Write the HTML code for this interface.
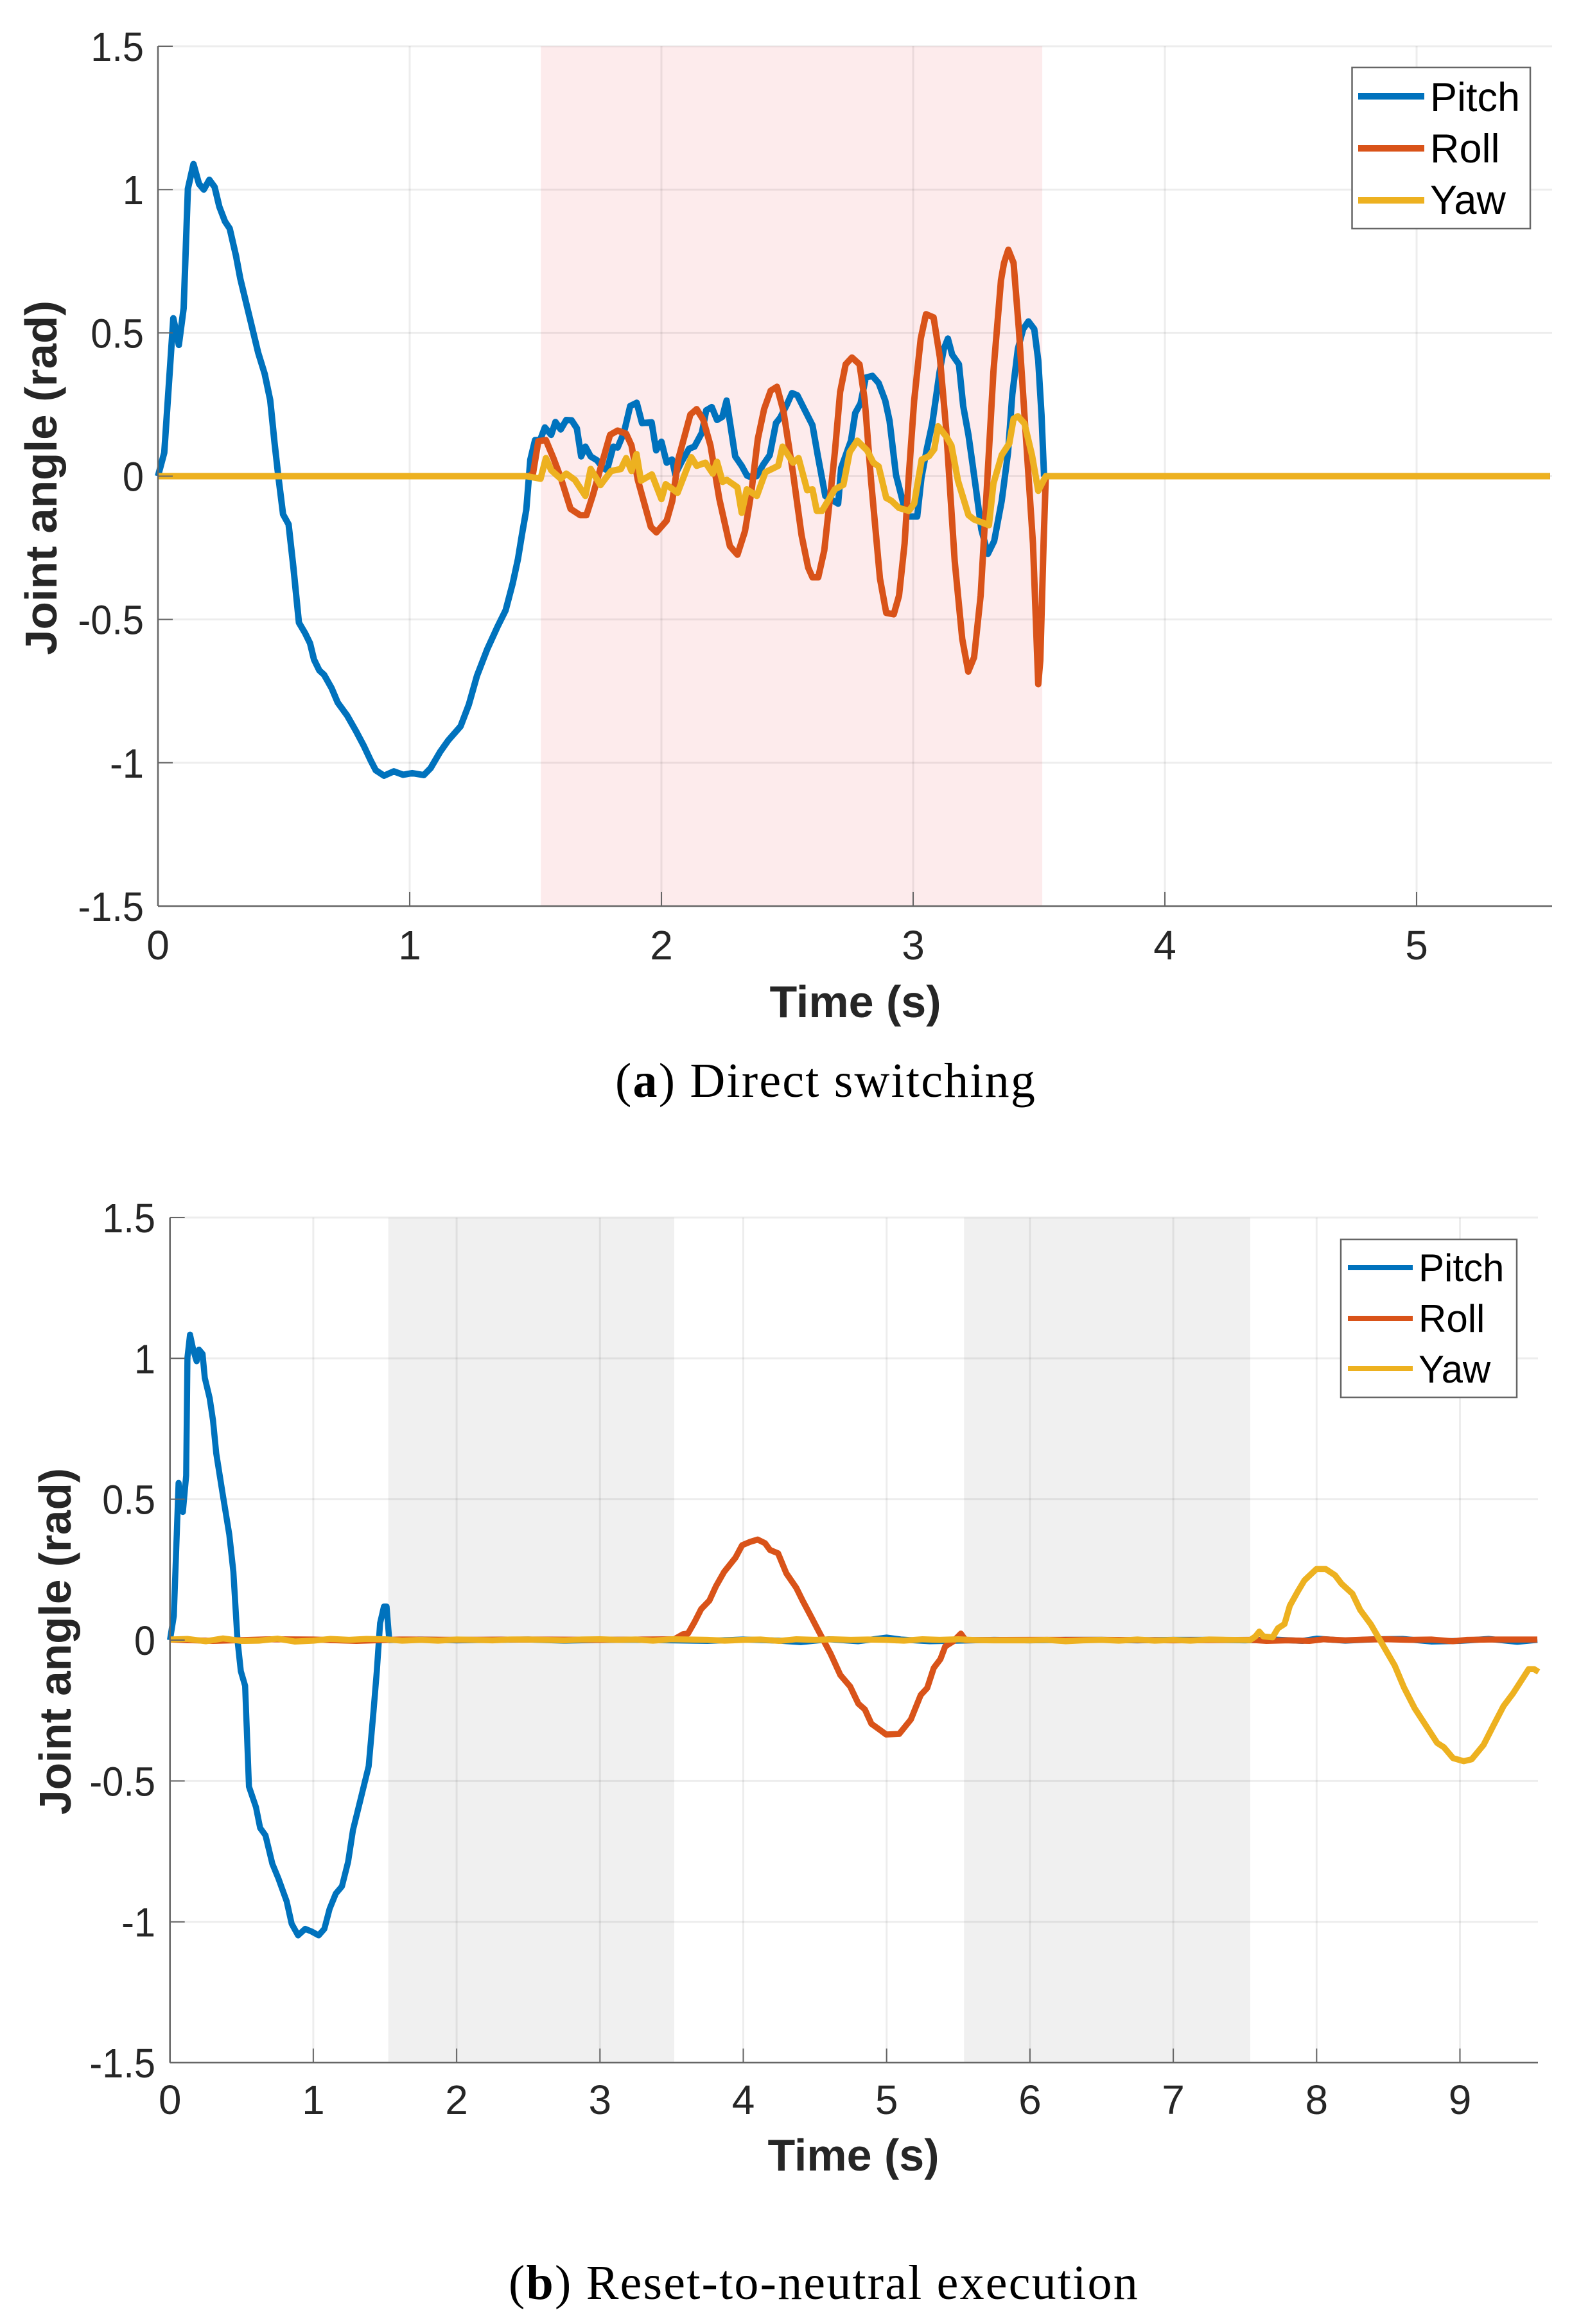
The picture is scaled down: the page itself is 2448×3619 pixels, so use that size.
<!DOCTYPE html>
<html lang="en">
<head>
<meta charset="utf-8">
<title>Joint angle: direct switching and reset-to-neutral execution</title>
<style>
  html, body { margin: 0; padding: 0; background: #fff; }
  svg { display: block; }
  text { font-family: "Liberation Sans", sans-serif; }
  .tick { font-size: 64px; fill: #262626; }
  .axis-title { font-size: 70px; font-weight: bold; fill: #262626; }
  .legend-text { fill: #000; }
  .caption { font-family: "Liberation Serif", serif; font-size: 76px; letter-spacing: 2.2px; fill: #000; }
</style>
</head>
<body>
<svg id="root" xmlns="http://www.w3.org/2000/svg" width="2448" height="3619" viewBox="0 0 2448 3619">
  <rect x="0" y="0" width="2448" height="3619" fill="#ffffff"/>
  <g id="chart-a"></g>
  <g id="chart-b"></g>
  <text class="caption" x="958" y="1708">(<tspan font-weight="bold">a</tspan>) Direct switching</text>
  <text class="caption" x="792" y="3580">(<tspan font-weight="bold">b</tspan>) Reset-to-neutral execution</text>
</svg>
<script>
// ---------- Shared axis data ----------
const yTickValues = [1.5, 1, 0.5, 0, -0.5, -1, -1.5];
const yTickLabels = ["1.5", "1", "0.5", "0", "-0.5", "-1", "-1.5"];
const xTickValuesA = [0, 1, 2, 3, 4, 5];
const xTickLabelsA = ["0", "1", "2", "3", "4", "5"];
const xTickValuesB = [0, 1, 2, 3, 4, 5, 6, 7, 8, 9];
const xTickLabelsB = ["0", "1", "2", "3", "4", "5", "6", "7", "8", "9"];
const shadeStartsA = [1.521];
const shadeEndsA = [3.513];
const shadeStartsB = [1.523, 5.54];
const shadeEndsB = [3.518, 7.537];
const legendLabels = ["Pitch", "Roll", "Yaw"];

// ---------- Chart (a) series ----------
const pitchTimeA = [0,.025,.061,.083,.102,.119,.141,.163,.182,.204,.225,.244,.266,.285,.31,.327,.368,.398,.424,.446,.463,.478,.497,.519,.538,.56,.584,.604,.62,.641,.66,.69,.714,.752,.787,.817,.844,.865,.898,.937,.974,1.01,1.056,1.083,1.121,1.153,1.202,1.235,1.267,1.308,1.349,1.381,1.409,1.43,1.446,1.463,1.479,1.498,1.518,1.537,1.562,1.579,1.6,1.622,1.643,1.664,1.681,1.698,1.719,1.745,1.767,1.784,1.809,1.826,1.851,1.876,1.902,1.923,1.961,1.979,2.0,2.021,2.042,2.055,2.08,2.11,2.131,2.161,2.178,2.2,2.221,2.242,2.259,2.293,2.319,2.34,2.357,2.378,2.404,2.43,2.455,2.472,2.498,2.519,2.54,2.57,2.6,2.621,2.651,2.702,2.714,2.753,2.77,2.791,2.812,2.838,2.863,2.889,2.906,2.932,2.961,2.983,3.016,3.033,3.054,3.076,3.105,3.122,3.138,3.155,3.182,3.199,3.22,3.25,3.271,3.297,3.322,3.352,3.377,3.394,3.416,3.437,3.458,3.481,3.497,3.51,3.52,3.527,5.53];
const pitchValuesA = [0,.082,.551,.458,.586,1.003,1.089,1.02,1.0,1.034,1.009,.94,.889,.864,.769,.689,.54,.431,.357,.265,.117,0,-.133,-.168,-.318,-.511,-.547,-.583,-.64,-.678,-.693,-.74,-.79,-.836,-.89,-.94,-.99,-1.026,-1.045,-1.03,-1.042,-1.036,-1.043,-1.019,-.962,-.922,-.873,-.797,-.697,-.604,-.525,-.468,-.375,-.289,-.204,-.118,.057,.126,.126,.17,.144,.189,.163,.196,.195,.167,.069,.103,.069,.055,.029,.021,.103,.1,.152,.245,.256,.185,.188,.09,.12,.047,.058,.006,.05,.096,.103,.152,.23,.241,.196,.207,.264,.069,.036,.002,-.004,.0,.04,.073,.185,.204,.249,.29,.282,.23,.178,.073,-.069,-.096,.029,.124,.22,.254,.344,.35,.325,.264,.194,.004,-.096,-.141,-.141,-.006,.094,.184,.364,.444,.48,.424,.39,.244,.143,-.047,-.186,-.271,-.226,-.085,.083,.285,.444,.513,.54,.513,.404,.214,.004,0,0];

const rollTimeA = [0,1.475,1.49,1.511,1.541,1.571,1.6,1.639,1.677,1.702,1.728,1.762,1.796,1.826,1.86,1.881,1.906,1.958,1.98,2.021,2.043,2.068,2.115,2.14,2.166,2.195,2.23,2.272,2.302,2.332,2.357,2.383,2.408,2.434,2.459,2.485,2.523,2.557,2.583,2.6,2.623,2.647,2.672,2.689,2.71,2.732,2.757,2.787,2.808,2.833,2.868,2.893,2.923,2.944,2.966,2.983,3.004,3.03,3.051,3.081,3.106,3.131,3.165,3.195,3.219,3.242,3.268,3.293,3.319,3.349,3.361,3.378,3.399,3.42,3.446,3.476,3.497,3.505,3.518,3.527,5.53];
const rollValuesA = [0,0,.01,.122,.126,.063,-.005,-.114,-.136,-.136,-.065,.04,.144,.159,.148,.107,-.013,-.177,-.196,-.155,-.087,.063,.215,.234,.197,.107,-.08,-.244,-.274,-.192,-.058,.13,.234,.298,.312,.226,.01,-.207,-.319,-.353,-.353,-.259,-.058,.084,.294,.39,.414,.39,.264,-.016,-.357,-.477,-.482,-.417,-.235,.004,.264,.48,.565,.554,.415,.164,-.296,-.567,-.682,-.632,-.417,-.036,.364,.684,.744,.79,.744,.513,.164,-.235,-.726,-.643,-.235,0,0];

const yawTimeA = [0,1.464,1.52,1.541,1.562,1.6,1.622,1.656,1.698,1.719,1.758,1.8,1.839,1.86,1.881,1.901,1.919,1.962,2.0,2.017,2.064,2.119,2.14,2.175,2.204,2.221,2.243,2.26,2.302,2.319,2.339,2.379,2.413,2.464,2.481,2.523,2.545,2.579,2.6,2.617,2.638,2.689,2.723,2.748,2.778,2.817,2.842,2.863,2.893,2.914,2.944,2.983,3.004,3.034,3.063,3.084,3.099,3.131,3.152,3.178,3.199,3.22,3.242,3.301,3.319,3.352,3.382,3.399,3.416,3.442,3.472,3.497,3.527,5.53];
const yawValuesA = [0,0,-.009,.063,.021,-.009,.009,-.013,-.069,.025,-.031,.018,.025,.063,.018,.077,-.016,.006,-.08,-.028,-.058,.066,.036,.047,.009,.05,-.02,-.013,-.039,-.128,-.046,-.069,.014,.036,.103,.047,.063,-.049,-.046,-.121,-.121,-.046,-.03,.084,.124,.09,.047,.034,-.076,-.086,-.111,-.121,-.096,.058,.07,.094,.174,.139,.107,-.016,-.076,-.136,-.151,-.171,-.026,.074,.114,.2,.209,.184,.074,-.051,0,0];

// ---------- Chart (b) series ----------
const pitchTimeB = [0,.027,.06,.09,.113,.122,.14,.163,.186,.202,.227,.243,.277,.3,.323,.368,.414,.442,.471,.494,.524,.551,.6,.629,.666,.714,.757,.814,.849,.894,.943,.986,1.037,1.077,1.114,1.157,1.2,1.243,1.277,1.329,1.386,1.42,1.443,1.466,1.493,1.511,1.53,1.75,2.0,2.25,2.5,2.75,3.0,3.25,3.5,3.75,4.0,4.25,4.4,4.6,4.8,5.0,5.1,5.3,5.5,5.75,6.0,6.25,6.5,6.75,7.0,7.25,7.5,7.7,7.9,8.0,8.2,8.4,8.6,8.8,9.0,9.2,9.4,9.54];
const pitchValuesB = [0,.086,.558,.455,.584,1.003,1.084,1.029,.99,1.031,1.016,.931,.859,.78,.662,.518,.374,.243,.001,-.11,-.162,-.52,-.593,-.667,-.693,-.794,-.847,-.927,-1.007,-1.048,-1.025,-1.034,-1.048,-1.025,-.954,-.9,-.874,-.787,-.674,-.567,-.448,-.254,-.11,.06,.119,.119,0,.002,-.001,.001,.002,-.002,.001,.001,-.001,-.003,.002,-.002,-.007,.003,-.004,.009,.002,-.004,-.002,.001,-.001,.001,.001,-.001,.001,.001,-.001,.002,-.003,.005,-.002,.003,.004,-.005,-.003,.004,-.006,.001];

const rollTimeB = [0,.3,.7,1.0,1.3,1.6,2.0,2.5,3.0,3.518,3.58,3.614,3.66,3.706,3.763,3.809,3.866,3.946,3.992,4.049,4.1,4.152,4.186,4.243,4.3,4.369,4.414,4.472,4.54,4.609,4.677,4.746,4.803,4.848,4.894,4.951,4.997,5.088,5.169,5.238,5.283,5.329,5.375,5.409,5.466,5.518,5.55,6.0,6.5,7.0,7.54,7.65,7.8,7.95,8.05,8.2,8.35,8.5,8.65,8.8,8.95,9.05,9.2,9.35,9.45,9.54];
const rollValuesB = [.002,-.003,.003,.002,-.003,.002,.001,.002,.001,.003,.021,.023,.064,.11,.14,.191,.242,.293,.337,.349,.357,.344,.32,.308,.237,.186,.14,.084,.018,-.048,-.124,-.165,-.226,-.246,-.297,-.318,-.335,-.333,-.282,-.195,-.17,-.099,-.068,-.022,-.004,.023,0,.001,.001,-.001,.001,-.003,-.001,-.003,.003,-.001,.002,.003,.001,.002,-.004,.001,.002,.002,.002,.002];

const yawTimeB = [0,.12,.25,.37,.5,.62,.75,.87,1.0,1.12,1.25,1.37,1.5,1.62,1.75,1.87,2.0,2.12,2.25,2.37,2.5,2.62,2.75,2.87,3.0,3.12,3.25,3.37,3.5,3.62,3.75,3.87,4.0,4.12,4.25,4.37,4.5,4.62,4.75,4.87,5.0,5.12,5.25,5.37,5.5,5.62,5.75,5.87,6.0,6.12,6.25,6.37,6.5,6.62,6.75,6.87,7.0,7.12,7.25,7.37,7.536,7.573,7.6,7.629,7.693,7.73,7.776,7.813,7.869,7.915,7.998,8.064,8.129,8.174,8.249,8.304,8.378,8.452,8.545,8.61,8.684,8.767,8.841,8.887,8.952,9.026,9.082,9.165,9.23,9.304,9.369,9.443,9.48,9.517,9.549];
const yawValuesB = [.002,.004,-.004,.006,-.003,-.002,.005,-.005,-.002,.004,.001,.004,.003,-.002,.001,-.002,.002,.001,-.001,.002,.002,.001,-.001,.002,.003,.001,.002,-.002,.003,.002,.001,-.002,.001,.002,-.003,.003,.001,.003,.001,.002,.001,-.002,.003,.001,.003,0,-.001,-.001,-.001,.001,-.004,-.001,.001,-.002,.002,-.002,.001,-.002,.002,.001,0,.013,.03,.013,.01,.042,.057,.122,.173,.212,.252,.252,.23,.2,.165,.107,.056,-.009,-.09,-.169,-.242,-.307,-.365,-.38,-.419,-.43,-.423,-.372,-.307,-.234,-.19,-.132,-.103,-.103,-.113];

const SVG_NS = "http://www.w3.org/2000/svg";
const COLORS = ["#0072BD", "#D95319", "#EDB120"];

function makeEl(tag, attrs, parent) {
  const el = document.createElementNS(SVG_NS, tag);
  for (const k in attrs) el.setAttribute(k, attrs[k]);
  parent.appendChild(el);
  return el;
}

function pathFrom(times, values, xs, ys) {
  return times.map((t, i) => (i ? "L" : "M") + xs(t).toFixed(1) + " " + ys(values[i]).toFixed(1)).join("");
}

function drawChart(cfg) {
  const g = document.getElementById(cfg.groupId);
  const xs = t => cfg.x0 + t * cfg.xPerUnit;
  const ys = v => cfg.yZero - v * cfg.yPerUnit;
  const top = ys(1.5), bottom = ys(-1.5);

  cfg.shadeStarts.forEach((start, i) => {
    const el = makeEl("rect", { x: xs(start), y: top, width: xs(cfg.shadeEnds[i]) - xs(start), height: bottom - top, fill: cfg.shadeColor }, g);
    
    
  });

  cfg.xTicks.forEach(t => {
    const el = makeEl("line", { x1: xs(t), x2: xs(t), y1: top, y2: bottom, stroke: "#000", "stroke-opacity": 0.07, "stroke-width": 3 }, g);
    
    
  });
  yTickValues.forEach(v => {
    const el = makeEl("line", { x1: cfg.x0, x2: cfg.xEnd, y1: ys(v), y2: ys(v), stroke: "#000", "stroke-opacity": 0.07, "stroke-width": 3 }, g);
    
    
  });

  cfg.series.forEach((s, i) => {
    const el = makeEl("path", { d: pathFrom(s.times, s.values, xs, ys), fill: "none", stroke: COLORS[i], "stroke-width": cfg.lineWidth, "stroke-linejoin": "round", "stroke-linecap": "butt" }, g);
    
    
  });

  const xAxis = makeEl("line", { x1: cfg.x0, x2: cfg.xEnd, y1: bottom, y2: bottom, stroke: "#666", "stroke-width": 2.5 }, g);
  
  
  const yAxis = makeEl("line", { x1: cfg.x0, x2: cfg.x0, y1: top, y2: bottom, stroke: "#666", "stroke-width": 2.5 }, g);
  
  

  cfg.xTicks.forEach((t, i) => {
    const mark = makeEl("line", { x1: xs(t), x2: xs(t), y1: bottom, y2: bottom - 22, stroke: "#666", "stroke-width": 2 }, g);
    
    
    const label = makeEl("text", { class: "tick", x: xs(t), y: cfg.xTickBaseline, "text-anchor": "middle" }, g);
    label.textContent = cfg.xLabels[i];
    
    
  });
  yTickValues.forEach((v, i) => {
    const mark = makeEl("line", { x1: cfg.x0, x2: cfg.x0 + 23, y1: ys(v), y2: ys(v), stroke: "#666", "stroke-width": 2 }, g);
    
    
    const label = makeEl("text", { class: "tick", x: cfg.yTickRight, y: ys(v) + 23, "text-anchor": "end" }, g);
    label.textContent = yTickLabels[i];
    
    
    label.setAttribute('textLength', (label.getComputedTextLength() * 0.93).toFixed(1));
    label.setAttribute('lengthAdjust', 'spacingAndGlyphs');
  });

  const xTitle = makeEl("text", { class: "axis-title", x: cfg.xTitleX, y: cfg.xTitleY, "text-anchor": "middle" }, g);
  xTitle.textContent = "Time (s)";
  
  
  const yTitle = makeEl("text", { class: "axis-title", transform: "translate(" + cfg.yTitleX + " " + cfg.yTitleY + ") rotate(-90)", "text-anchor": "middle", textLength: cfg.yTitleLength, lengthAdjust: "spacingAndGlyphs" }, g);
  yTitle.textContent = "Joint angle (rad)";
  
  

  const lg = cfg.legend;
  const legend = makeEl("g", {}, g);
  
  
  const box = makeEl("rect", { x: lg.left, y: lg.top, width: lg.right - lg.left, height: lg.bottom - lg.top, fill: "#fff", stroke: "#666", "stroke-width": 2.5 }, legend);
  
  
  legendLabels.forEach((name, i) => {
    const swatch = makeEl("line", { x1: lg.lineX1, x2: lg.lineX2, y1: lg.lineY[i], y2: lg.lineY[i], stroke: COLORS[i], "stroke-width": lg.lineWidth }, legend);
    
    
    const text = makeEl("text", { class: "legend-text", x: lg.textX, y: lg.textY[i], "font-size": lg.fontSize }, legend);
    text.textContent = name;
    
    
  });
}

drawChart({
  groupId: "chart-a", x0: 246, xPerUnit: 392, xEnd: 2417, yZero: 741.5, yPerUnit: 446.3,
  xTicks: xTickValuesA, xLabels: xTickLabelsA, shadeStarts: shadeStartsA, shadeEnds: shadeEndsA, shadeColor: "#fdebec",
  lineWidth: 10, xTickBaseline: 1494, yTickRight: 224, xTitleX: 1332, xTitleY: 1584, yTitleX: 88, yTitleY: 744, yTitleLength: 552,
  series: [{ times: pitchTimeA, values: pitchValuesA }, { times: rollTimeA, values: rollValuesA }, { times: yawTimeA, values: yawValuesA }],
  legend: { left: 2105.5, right: 2383, top: 105, bottom: 356, lineX1: 2115, lineX2: 2218, lineY: [150, 231, 312], lineWidth: 10, textX: 2227, textY: [173, 253, 333], fontSize: 63 }
});

drawChart({
  groupId: "chart-b", x0: 264.7, xPerUnit: 223.2, xEnd: 2395, yZero: 2554, yPerUnit: 438.7,
  xTicks: xTickValuesB, xLabels: xTickLabelsB, shadeStarts: shadeStartsB, shadeEnds: shadeEndsB, shadeColor: "#f0f0f0",
  lineWidth: 9.5, xTickBaseline: 3292, yTickRight: 242, xTitleX: 1329, xTitleY: 3380, yTitleX: 110, yTitleY: 2556, yTitleLength: 540,
  series: [{ times: pitchTimeB, values: pitchValuesB }, { times: rollTimeB, values: rollValuesB }, { times: yawTimeB, values: yawValuesB }],
  legend: { left: 2088, right: 2362, top: 1930, bottom: 2176, lineX1: 2099, lineX2: 2200, lineY: [1974, 2053, 2131], lineWidth: 8, textX: 2209, textY: [1995, 2074, 2153], fontSize: 60 }
});
</script>
</body>
</html>
